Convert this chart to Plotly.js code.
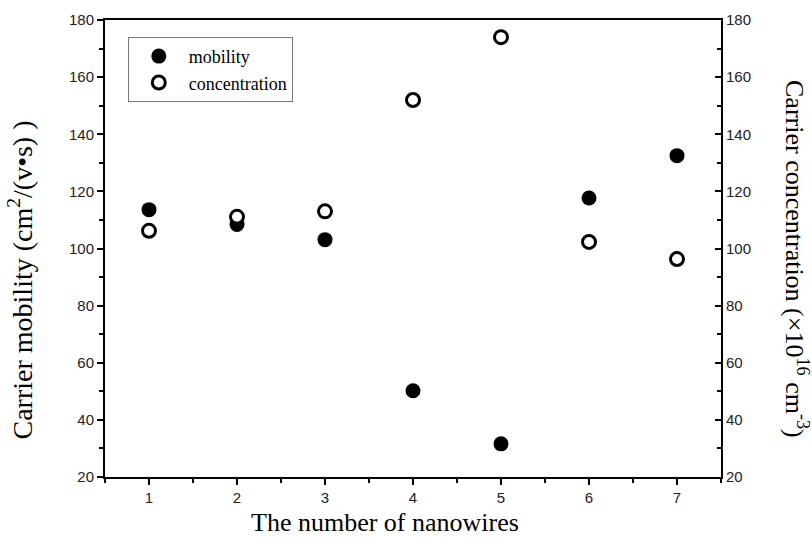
<!DOCTYPE html>
<html>
<head>
<meta charset="utf-8">
<script src="https://cdn.plot.ly/plotly-3.0.1.min.js"></script>
<style>html,body{margin:0;padding:0;background:#fff;}#chart{width:812px;height:538px;}</style>
</head>
<body>
<div id="chart"></div>
<script>
const nanowires = [1, 2, 3, 4, 5, 6, 7];
const mobility = [113.6, 108.4, 103.1, 50.2, 31.6, 117.7, 132.5];
const concentration = [106.2, 111.1, 113.0, 152.0, 174.0, 102.3, 96.3];
const yTicks = [20, 40, 60, 80, 100, 120, 140, 160, 180];

const traces = [
  {x: nanowires, y: mobility, name: 'mobility', type: 'scatter', mode: 'markers',
   marker: {symbol: 'circle', size: 15, color: '#000', line: {width: 0}}},
  {x: nanowires, y: concentration, name: 'concentration', type: 'scatter', mode: 'markers', yaxis: 'y2',
   marker: {symbol: 'circle', size: 13, color: '#fff', line: {width: 3, color: '#000'}}}
];

const tickFont = {family: 'Liberation Sans, Arial, sans-serif', size: 15, color: '#222'};
const serif = 'Liberation Serif, Times New Roman, serif';

const layout = {
  width: 812, height: 538,
  margin: {l: 105, r: 91, t: 20, b: 61},
  paper_bgcolor: '#fff', plot_bgcolor: '#fff',
  showlegend: true,
  legend: {x: 0.037, y: 0.963, xanchor: 'left', yanchor: 'top', bgcolor: '#fff',
           bordercolor: '#777', borderwidth: 1, itemwidth: 50,
           font: {family: serif, size: 18, color: '#000'},
           tracegroupgap: 0},
  xaxis: {range: [0.5, 7.5], tickvals: nanowires, ticktext: nanowires.map(String),
          showline: true, linecolor: '#000', linewidth: 2, mirror: true,
          ticks: 'outside', ticklen: 6, tickwidth: 2, tickcolor: '#000',
          minor: {dtick: 0.5, tick0: 0.5, ticks: 'outside', ticklen: 4, tickwidth: 2, tickcolor: '#000', showgrid: false},
          showgrid: false, zeroline: false, tickfont: tickFont},
  yaxis: {range: [20, 180], tickvals: yTicks, showline: true, linecolor: '#000', linewidth: 2,
          ticks: 'outside', ticklen: 6, tickwidth: 2, tickcolor: '#000',
          minor: {dtick: 10, tick0: 10, ticks: 'outside', ticklen: 4, tickwidth: 2, tickcolor: '#000', showgrid: false},
          showgrid: false, zeroline: false, tickfont: tickFont},
  yaxis2: {range: [20, 180], tickvals: yTicks, overlaying: 'y', side: 'right',
           showline: true, linecolor: '#000', linewidth: 2,
           ticks: 'inside', ticklen: 6, tickwidth: 2, tickcolor: '#000',
           minor: {dtick: 10, tick0: 10, ticks: 'inside', ticklen: 4, tickwidth: 2, tickcolor: '#000', showgrid: false},
           showgrid: false, zeroline: false, tickfont: tickFont},
  annotations: [
    {text: 'The number of nanowires', xref: 'paper', yref: 'paper', x: 0.455, y: 0, yshift: -45,
     xanchor: 'center', yanchor: 'middle', showarrow: false,
     font: {family: serif, size: 26, color: '#000'}},
    {text: 'Carrier mobility (cm<sup>2</sup>/(v•s) )', xref: 'paper', yref: 'paper', x: 0, xshift: -84, y: 0.43,
     xanchor: 'center', yanchor: 'middle', textangle: -90, showarrow: false,
     font: {family: serif, size: 28, color: '#000'}},
    {text: 'Carrier concentration (×10<sup>16</sup> cm<sup>-3</sup>)', xref: 'paper', yref: 'paper', x: 1, xshift: 76, y: 0.477,
     xanchor: 'center', yanchor: 'middle', textangle: 90, showarrow: false,
     font: {family: serif, size: 26, color: '#000'}}
  ]
};

Plotly.newPlot('chart', traces, layout, {displayModeBar: false, staticPlot: true});
</script>
</body>
</html>
